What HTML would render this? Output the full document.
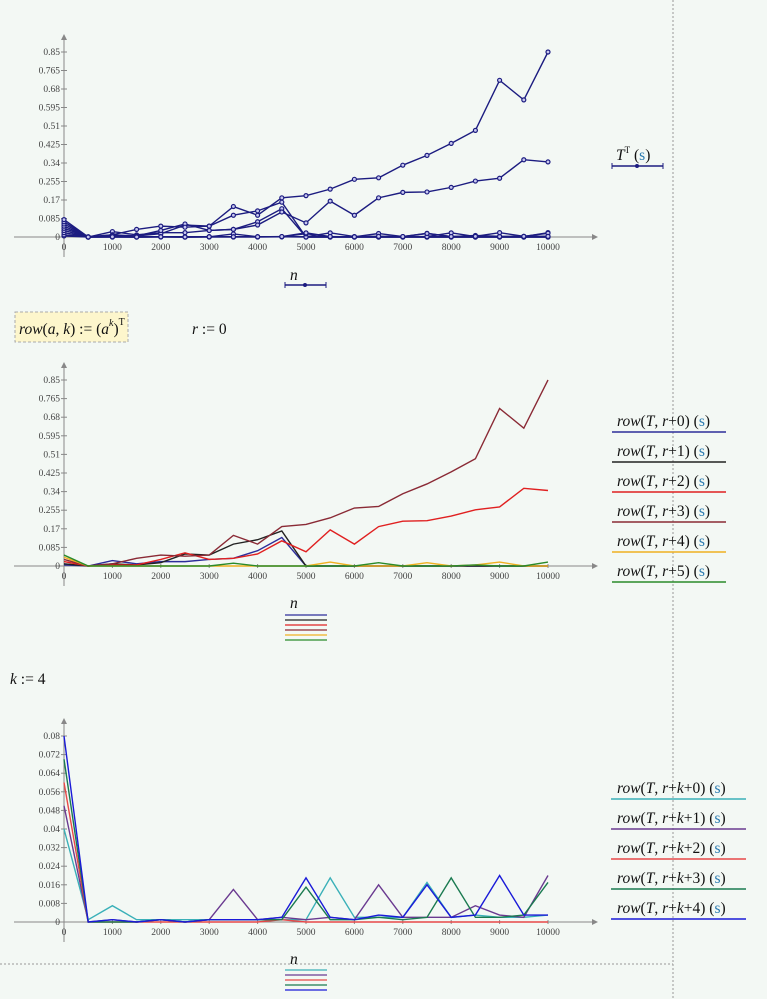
<!DOCTYPE html>
<html><head><meta charset="utf-8">
<style>
html,body{margin:0;padding:0;background:#f3f8f4;}
svg{display:block;font-family:"Liberation Serif",serif;}
.tick{font-size:9.5px;fill:#444;}
.leg{font-size:15.5px;font-style:italic;fill:#111;}
.s{font-style:normal;fill:#2a7ab0;}
.up{font-style:normal;}
</style></head>
<body>
<svg id="root" width="767" height="999" viewBox="0 0 767 999">
  <line x1="673" y1="0" x2="673" y2="999" stroke="#999" stroke-dasharray="2,2"/>
  <line x1="0" y1="964" x2="673" y2="964" stroke="#999" stroke-dasharray="2,2"/>
  <g>
    <rect x="15" y="312" width="113" height="30" fill="#fdf6cc" stroke="#aaa" stroke-dasharray="3,2"/>
    <text x="19" y="334" class="leg">row<tspan class="up">(</tspan>a<tspan class="up">, </tspan>k<tspan class="up">) := (</tspan>a<tspan dy="-8" font-size="10">k</tspan><tspan dy="8" class="up">)</tspan><tspan dy="-9" font-size="10" class="up">T</tspan></text>
  </g>
  <text x="192" y="334" class="leg">r<tspan class="up"> := 0</tspan></text>
  <text x="10" y="684" class="leg">k<tspan class="up"> := 4</tspan></text>
  <g id="c1"></g>
  <g id="c2"></g>
  <g id="c3"></g>
</svg>
<script>
const xs = [0,500,1000,1500,2000,2500,3000,3500,4000,4500,5000,5500,6000,6500,7000,7500,8000,8500,9000,9500,10000];
const xTicks = [0,1000,2000,3000,4000,5000,6000,7000,8000,9000,10000];
const yTicksA = [0,0.085,0.17,0.255,0.34,0.425,0.51,0.595,0.68,0.765,0.85];
const yTicksB = [0,0.008,0.016,0.024,0.032,0.04,0.048,0.056,0.064,0.072,0.08];
const row0 = [0.005,0,0.025,0.01,0.02,0.02,0.03,0.035,0.07,0.13,0,0,0,0,0,0,0,0,0,0,0];
const row1 = [0.01,0,0.01,0.005,0.015,0.055,0.05,0.1,0.12,0.16,0,0,0,0,0,0,0,0,0,0,0];
const row2 = [0.02,0,0.005,0.005,0.03,0.06,0.03,0.035,0.055,0.115,0.065,0.165,0.1,0.18,0.205,0.207,0.228,0.257,0.27,0.355,0.345];
const row3 = [0.03,0,0.01,0.035,0.05,0.045,0.05,0.14,0.1,0.18,0.19,0.22,0.265,0.272,0.33,0.375,0.43,0.49,0.72,0.63,0.85];
const row4 = [0.04,0,0,0,0,0,0,0,0,0,0,0.018,0,0,0,0.015,0,0.005,0.018,0,0];
const row5 = [0.05,0,0,0,0,0,0,0.013,0,0,0,0,0,0.015,0,0,0,0.005,0,0,0.018];
const rk0 = [0.04,0.001,0.007,0.001,0.001,0.001,0.001,0.001,0.001,0.001,0.001,0.019,0.002,0.002,0.002,0.017,0.002,0.003,0.002,0.002,0.003];
const rk1 = [0.05,0,0.001,0,0.001,0,0.001,0.014,0.001,0.002,0.001,0.002,0.001,0.016,0.002,0.002,0.002,0.007,0.003,0.002,0.02];
const rk2 = [0.06,0,0,0,0,0,0,0,0,0.001,0,0,0,0,0,0,0,0,0,0,0];
const rk3 = [0.07,0,0,0,0.001,0,0.001,0.001,0.001,0.001,0.015,0.001,0.001,0.002,0.001,0.002,0.019,0.002,0.002,0.003,0.017];
const rk4 = [0.08,0,0.001,0,0.001,0,0.001,0.001,0.001,0.002,0.019,0.002,0.001,0.003,0.002,0.016,0.002,0.003,0.02,0.003,0.003];

const NS="http://www.w3.org/2000/svg";
function mk(p,tag,at){const e=document.createElementNS(NS,tag);for(const k in at)e.setAttribute(k,at[k]);p.appendChild(e);return e;}

function chart(gid,y0,yTop,yMax,yTicks,series,colors,markers){
  const g=document.getElementById(gid);
  const X=v=>64+v/10000*484;
  const Y=v=>y0-v/yMax*(y0-yTop);
  const ax=mk(g,'line',{x1:14,y1:y0,x2:594,y2:y0,stroke:'#888'});
  
  
  mk(g,'path',{d:`M598 ${y0} l-6 -3 v6 z`,fill:'#888'});
  const ay=mk(g,'line',{x1:64,y1:y0+20,x2:64,y2:yTop-14,stroke:'#888'});
  
  
  mk(g,'path',{d:`M64 ${yTop-18} l-3 6 h6 z`,fill:'#888'});
  xTicks.forEach(t=>{
    mk(g,'line',{x1:X(t),y1:y0-2,x2:X(t),y2:y0+2,stroke:'#888'});
    const tx=mk(g,'text',{x:X(t),y:y0+13,'text-anchor':'middle',class:'tick'});
    tx.textContent=t;
    
    
  });
  yTicks.forEach(t=>{
    mk(g,'line',{x1:61,y1:Y(t),x2:67,y2:Y(t),stroke:'#888'});
    const tx=mk(g,'text',{x:60,y:Y(t)+3,'text-anchor':'end',class:'tick'});
    tx.textContent=t;
    
    
  });
  series.forEach((s,i)=>{
    const pl=mk(g,'polyline',{points:s.map((v,j)=>X(xs[j])+','+Y(v)).join(' '),fill:'none',stroke:colors[i],'stroke-width':1.4});
    
    
    if(markers) s.forEach((v,j)=>{
      const c=mk(g,'circle',{cx:X(xs[j]),cy:Y(v),r:2,fill:'#c8c8f0',stroke:colors[i],'stroke-width':1.2});
      
      
    });
  });
}
const N='#1c1c80';
chart('c1',237,52,0.85,yTicksA,[row0,row1,row2,row3,rk0,rk1,rk2,rk3,rk4],[N,N,N,N,N,N,N,N,N],true);
const c2cols=['#2d2d9a','#222','#e02020','#8a2a35','#f0b020','#2a8a2a'];
chart('c2',566,380,0.85,yTicksA,[row0,row1,row2,row3,row4,row5],c2cols,false);
const c3cols=['#3ab0b8','#6a3a90','#e84848','#1a7a50','#1a1ad8'];
chart('c3',922,736,0.08,yTicksB,[rk0,rk1,rk2,rk3,rk4],c3cols,false);

const root=document.getElementById('root');
const l1=mk(root,'text',{x:616,y:160,class:'leg'});
l1.innerHTML='T<tspan dy="-7" font-size="9" class="up">T</tspan><tspan dy="7" class="up">  (</tspan><tspan class="s">s</tspan><tspan class="up">)</tspan>';


mk(root,'line',{x1:612,y1:166,x2:663,y2:166,stroke:N,'stroke-width':1.5});
mk(root,'circle',{cx:637,cy:166,r:2,fill:N});
mk(root,'path',{d:'M612 163v6M663 163v6',stroke:N});
const n1=mk(root,'text',{x:290,y:280,class:'leg'});n1.textContent='n';


mk(root,'line',{x1:285,y1:285,x2:326,y2:285,stroke:N,'stroke-width':1.5});
mk(root,'circle',{cx:305,cy:285,r:2,fill:N});
mk(root,'path',{d:'M285 282v6M326 282v6',stroke:N});
for(let i=0;i<6;i++){
  const y=421+i*30;
  const t=mk(root,'text',{x:617,y:y+5,class:'leg'});
  t.innerHTML='row<tspan class="up">(</tspan>T<tspan class="up">, </tspan>r<tspan class="up">+'+i+')  (</tspan><tspan class="s">s</tspan><tspan class="up">)</tspan>';
  
  
  mk(root,'line',{x1:612,y1:y+11,x2:726,y2:y+11,stroke:c2cols[i],'stroke-width':1.5});
}
const n2=mk(root,'text',{x:290,y:608,class:'leg'});n2.textContent='n';


c2cols.forEach((c,i)=>mk(root,'line',{x1:285,y1:615+i*5,x2:327,y2:615+i*5,stroke:c,'stroke-width':1.3}));
for(let i=0;i<5;i++){
  const y=788+i*30;
  const t=mk(root,'text',{x:617,y:y+5,class:'leg'});
  t.innerHTML='row<tspan class="up">(</tspan>T<tspan class="up">, </tspan>r<tspan class="up">+</tspan>k<tspan class="up">+'+i+')  (</tspan><tspan class="s">s</tspan><tspan class="up">)</tspan>';
  
  
  mk(root,'line',{x1:611,y1:y+11,x2:746,y2:y+11,stroke:c3cols[i],'stroke-width':1.5});
}
const n3=mk(root,'text',{x:290,y:964,class:'leg'});n3.textContent='n';


c3cols.forEach((c,i)=>mk(root,'line',{x1:285,y1:970+i*5,x2:327,y2:970+i*5,stroke:c,'stroke-width':1.3}));
</script>
</body></html>
